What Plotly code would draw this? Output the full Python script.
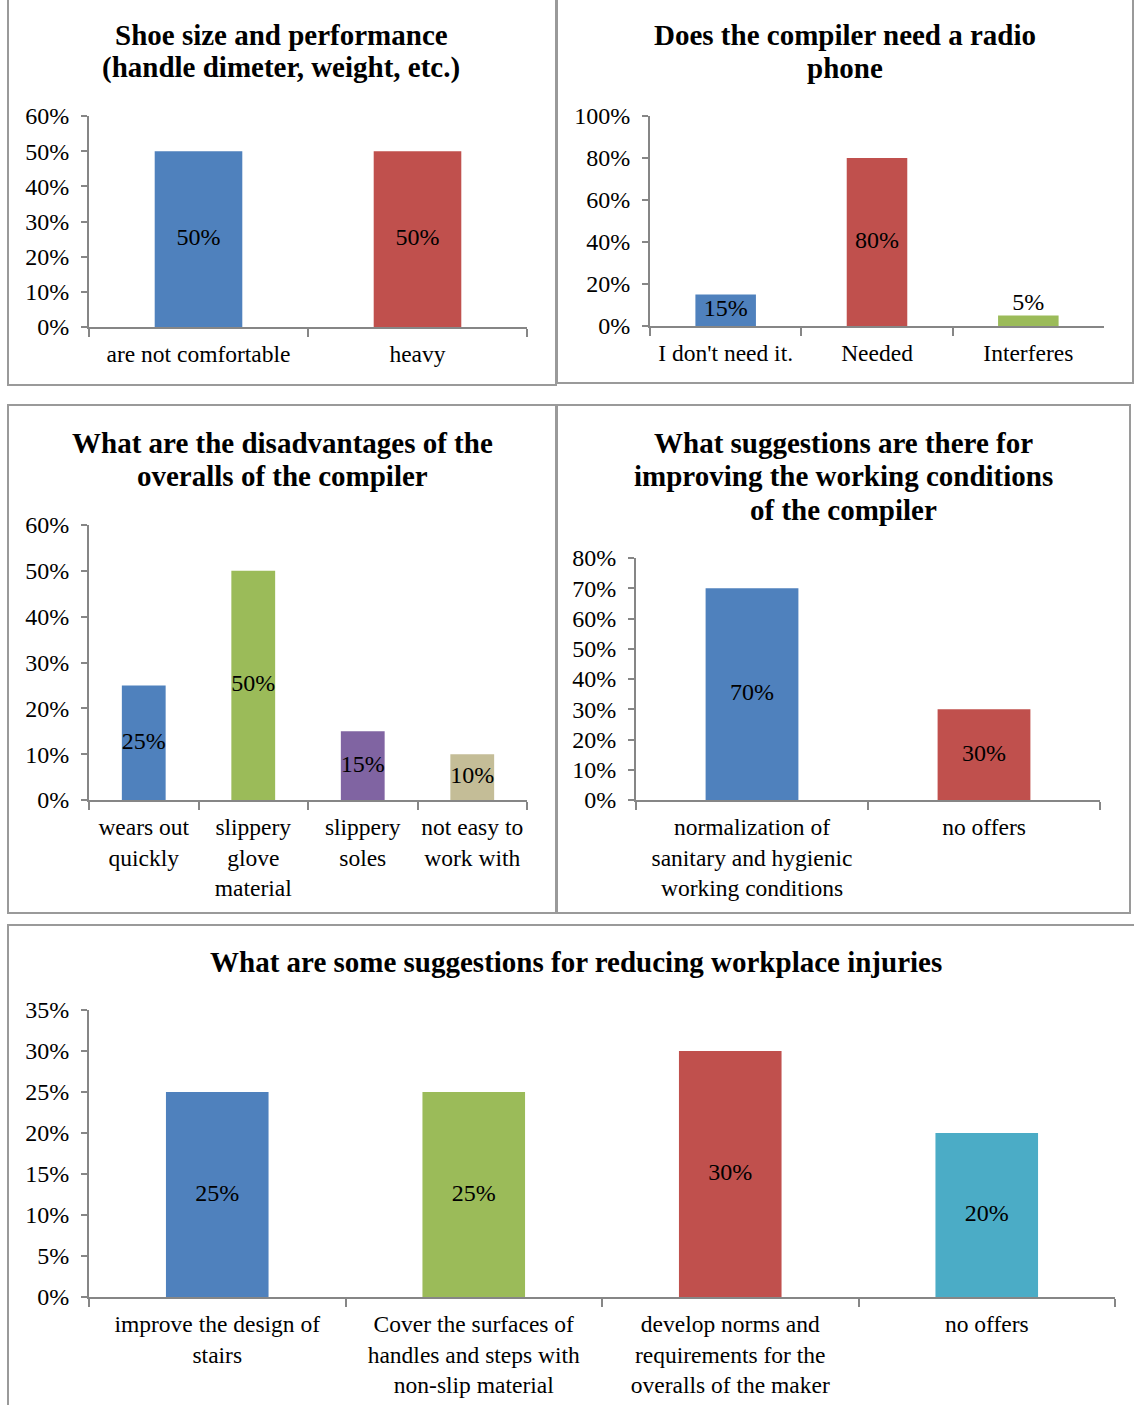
import plotly.graph_objects as go

W, H = 1134, 1405
FONT = "Liberation Serif"

# ---------------- data ----------------
p1_title = "Shoe size and performance<br>(handle dimeter, weight, etc.)"
p1_cats = ["are not comfortable", "heavy"]
p1_vals = [0.50, 0.50]
p1_colors = ["#4F81BD", "#C0504D"]

p2_title = "Does the compiler need a radio<br>phone"
p2_cats = ["I don't need it.", "Needed", "Interferes"]
p2_vals = [0.15, 0.80, 0.05]
p2_colors = ["#4F81BD", "#C0504D", "#9BBB59"]

p3_title = "What are the disadvantages of the<br>overalls of the compiler"
p3_cats = ["wears out<br>quickly", "slippery<br>glove<br>material", "slippery<br>soles", "not easy to<br>work with"]
p3_vals = [0.25, 0.50, 0.15, 0.10]
p3_colors = ["#4F81BD", "#9BBB59", "#8064A2", "#C4BD97"]

p4_title = "What suggestions are there for<br>improving the working conditions<br>of the compiler"
p4_cats = ["normalization of<br>sanitary and hygienic<br>working conditions", "no offers"]
p4_vals = [0.70, 0.30]
p4_colors = ["#4F81BD", "#C0504D"]

p5_title = "What are some suggestions for reducing workplace injuries"
p5_cats = ["improve the design of<br>stairs", "Cover the surfaces of<br>handles and steps with<br>non-slip material",
           "develop norms and<br>requirements for the<br>overalls of the maker", "no offers"]
p5_vals = [0.25, 0.25, 0.30, 0.20]
p5_colors = ["#4F81BD", "#9BBB59", "#C0504D", "#4BACC6"]

# ---------------- layout geometry (pixels) ----------------
panels = [
    dict(title=p1_title, cats=p1_cats, vals=p1_vals, colors=p1_colors,
         px=(89, 527), py=(116, 327), yr=0.6, dt=0.1, tx=281, ty=[35, 68], box=(8, -5, 556, 385)),
    dict(title=p2_title, cats=p2_cats, vals=p2_vals, colors=p2_colors,
         px=(650, 1104), py=(116, 326), yr=1.0, dt=0.2, tx=845, ty=[35, 68], box=(557, -5, 1133, 383)),
    dict(title=p3_title, cats=p3_cats, vals=p3_vals, colors=p3_colors,
         px=(89, 527), py=(525, 800), yr=0.6, dt=0.1, tx=282, ty=[443, 476], box=(8, 405, 556, 913)),
    dict(title=p4_title, cats=p4_cats, vals=p4_vals, colors=p4_colors,
         px=(636, 1100), py=(558, 800), yr=0.8, dt=0.1, tx=843, ty=[443, 476, 510], box=(557, 405, 1130, 913)),
    dict(title=p5_title, cats=p5_cats, vals=p5_vals, colors=p5_colors,
         px=(89, 1115), py=(1010, 1297), yr=0.35, dt=0.05, tx=576, ty=[962], box=(8, 925, 1145, 1415)),
]

AXIS_COLOR = "#868686"
fig = go.Figure()
layout = dict(width=W, height=H, margin=dict(l=0, r=0, t=0, b=0, autoexpand=False),
              paper_bgcolor="white", plot_bgcolor="white", showlegend=False,
              annotations=[], shapes=[])

for i, p in enumerate(panels):
    n = "" if i == 0 else str(i + 1)
    xa, ya = "x" + n, "y" + n
    ytext, tpos = [], []
    for v in p["vals"]:
        if v * (p["py"][1] - p["py"][0]) / p["yr"] < 25:
            ytext.append(v)
            tpos.append("top center")
        else:
            ytext.append(v / 2)
            tpos.append("middle center")
    fig.add_trace(go.Bar(x=p["cats"], y=p["vals"], marker=dict(color=p["colors"], line=dict(width=0)),
                         width=0.4, xaxis=xa, yaxis=ya, hoverinfo="skip"))
    fig.add_trace(go.Scatter(x=p["cats"], y=ytext, mode="text",
                             text=[f"{round(v*100)}%" for v in p["vals"]], textposition=tpos,
                             textfont=dict(family=FONT, size=24, color="black"),
                             xaxis=xa, yaxis=ya, hoverinfo="skip"))
    layout["xaxis" + n] = dict(
        domain=[p["px"][0] / W, p["px"][1] / W], anchor=ya, type="category", automargin=False,
        showline=True, linecolor=AXIS_COLOR, linewidth=2, tickangle=0,
        ticks="outside", tickson="boundaries", ticklen=8, tickcolor=AXIS_COLOR, tickwidth=2,
        tickfont=dict(family=FONT, size=23.5, color="black"), ticklabelstandoff=5,
        showgrid=False, zeroline=False, fixedrange=True)
    layout["yaxis" + n] = dict(
        domain=[1 - p["py"][1] / H, 1 - p["py"][0] / H], anchor=xa, automargin=False,
        range=[0, p["yr"]], dtick=p["dt"], tick0=0, tickformat=".0%",
        showline=True, linecolor=AXIS_COLOR, linewidth=2,
        ticks="outside", ticklen=6, tickcolor=AXIS_COLOR, tickwidth=2,
        tickfont=dict(family=FONT, size=24, color="black"), ticklabelstandoff=7,
        showgrid=False, zeroline=False, fixedrange=True)
    for line, yy in zip(p["title"].split("<br>"), p["ty"]):
        layout["annotations"].append(dict(
            text="<b>" + line + "</b>", xref="paper", yref="paper",
            x=p["tx"] / W, y=1 - yy / H, xanchor="center", yanchor="middle",
            showarrow=False, font=dict(family=FONT, size=29, color="black")))
    bx0, by0, bx1, by1 = p["box"]
    layout["shapes"].append(dict(
        type="rect", xref="paper", yref="paper",
        x0=bx0 / W, x1=bx1 / W, y0=1 - by1 / H, y1=1 - by0 / H,
        line=dict(color="#9A9A9A", width=2), fillcolor="rgba(0,0,0,0)", layer="below"))

fig.update_layout(**layout)
fig.write_html("out.html")
